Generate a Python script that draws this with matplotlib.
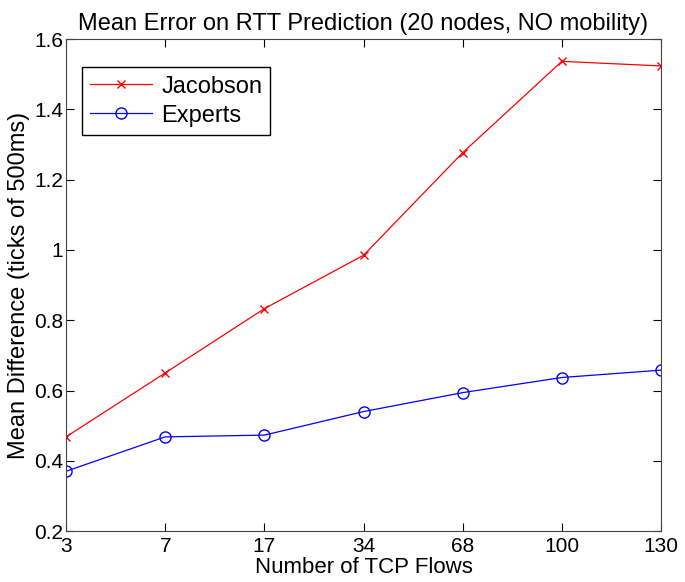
import numpy as np
import matplotlib.pyplot as plt

plt.rcParams['font.family'] = ['Liberation Sans', 'DejaVu Sans']

flows = ["3", "7", "17", "34", "68", "100", "130"]
jacobson = [0.468, 0.650, 0.833, 0.985, 1.277, 1.537, 1.524]
experts = [0.370, 0.468, 0.473, 0.540, 0.594, 0.637, 0.658]

fig = plt.figure(figsize=(6.85, 5.82), dpi=100)
ax = fig.add_axes([0.0964, 0.0876, 0.8686, 0.845])

x = np.arange(len(flows))
ax.plot(x, jacobson, color="red", marker="x", linewidth=0.9, markersize=6,
        label="Jacobson")
ax.plot(x, experts, color="blue", marker="o", linewidth=0.9, markersize=8,
        markerfacecolor="none", label="Experts")

ax.set_xlim(0, len(flows) - 1)
ax.set_ylim(0.2, 1.6)
ax.set_xticks(x)
ax.set_xticklabels(flows)
ax.set_yticks([0.2, 0.4, 0.6, 0.8, 1.0, 1.2, 1.4, 1.6])
ax.set_yticklabels(["0.2", "0.4", "0.6", "0.8", "1", "1.2", "1.4", "1.6"])
ax.tick_params(direction="in", top=True, right=True, labelsize=15, length=6, pad=2)
ax.tick_params(axis="x", pad=4)
for s in ax.spines.values():
    s.set_color("#444444")

ax.set_title("Mean Error on RTT Prediction (20 nodes, NO mobility)", fontsize=17, pad=7)
ax.set_xlabel("Number of TCP Flows", fontsize=16, labelpad=1)
ax.set_ylabel("Mean Difference (ticks of 500ms)", fontsize=17, labelpad=3)

ax.legend(loc="upper left", bbox_to_anchor=(0.027, 0.943), borderaxespad=0,
          fontsize=17, fancybox=False, edgecolor="black", framealpha=1,
          handlelength=2.6, handletextpad=0.4, borderpad=0.35, labelspacing=0.3)

plt.savefig("out.png", dpi=100)
